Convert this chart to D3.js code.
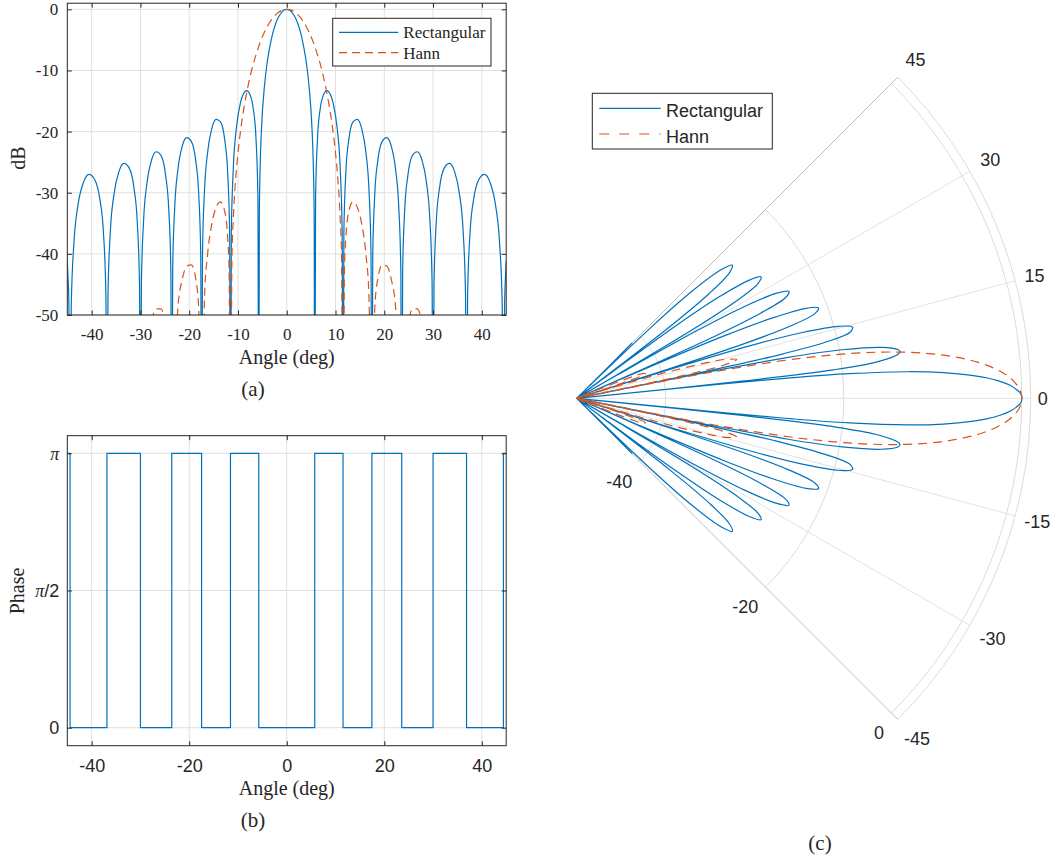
<!DOCTYPE html>
<html>
<head>
<meta charset="utf-8">
<script src="https://cdn.jsdelivr.net/npm/d3@7"></script>
<style>
  body { margin: 0; background: #fff; }
</style>
</head>
<body>
<svg id="fig" width="1056" height="861"></svg>
<script>
// ---- data ----

// rectangular window pattern, angle in degrees / level in dB (-80 = null, below the axis floor)
const rectAngle = [
  -45.000, -44.830, -44.669, -44.427,
  -44.186, -43.627, -42.844, -41.688, -40.542, -39.420, -38.317, -37.589, -37.085, -36.870,
  -36.655, -36.155, -35.450, -34.400, -33.367, -32.348, -31.332, -30.663, -30.199, -30.000,
  -29.802, -29.339, -28.682, -27.712, -26.744, -25.786, -24.834, -24.204, -23.766, -23.578,
  -23.390, -22.954, -22.332, -21.407, -20.487, -19.572, -18.662, -18.059, -17.638, -17.458,
  -17.278, -16.858, -16.260, -15.368, -14.478, -13.591, -12.710, -12.122, -11.713, -11.537,
  -11.361, -10.953, -10.371, -9.497, -8.627, -8.220, -7.758, -6.893, -6.315, -5.912, -5.739,
  -5.624, -5.451, -5.164, -4.589, -4.014, -3.440, -2.866, -2.292, -1.719, -1.146, -0.573,
  0,
  0.573, 1.146, 1.719, 2.292, 2.866, 3.440, 4.014, 4.589, 5.164, 5.451, 5.624,
  5.739, 5.912, 6.315, 6.893, 7.758, 8.220, 8.627, 9.497, 10.371, 10.953, 11.361,
  11.537, 11.713, 12.122, 12.710, 13.591, 14.478, 15.368, 16.260, 16.858, 17.278,
  17.458, 17.638, 18.059, 18.662, 19.572, 20.487, 21.407, 22.332, 22.954, 23.390,
  23.578, 23.766, 24.204, 24.834, 25.786, 26.744, 27.712, 28.682, 29.339, 29.802,
  30.000, 30.199, 30.663, 31.332, 32.348, 33.367, 34.400, 35.450, 36.155, 36.655,
  36.870, 37.085, 37.589, 38.317, 39.420, 40.542, 41.688, 42.844, 43.627, 44.186,
  44.427, 44.669, 44.830, 45.000
];
const rectDb = [
  -41.2, -44.2, -48.5, -80,
  -48.4, -38.0, -32.2, -28.3, -27.0, -27.8, -31.1, -36.5, -46.7, -80,
  -46.6, -36.1, -30.4, -26.5, -25.2, -25.9, -29.2, -34.7, -44.8, -80,
  -44.7, -34.3, -28.5, -24.6, -23.3, -23.9, -27.2, -32.6, -42.7, -80,
  -42.6, -32.1, -26.3, -22.3, -21.0, -21.6, -24.8, -30.1, -40.2, -80,
  -40.0, -29.5, -23.6, -19.5, -18.0, -18.4, -21.4, -26.6, -36.6, -80,
  -36.4, -25.8, -19.7, -15.3, -13.5, -13.3, -13.6, -16.1, -21.0, -30.8, -80,
  -33.8, -25.6, -19.3, -12.7, -8.7, -6.0, -3.9, -2.4, -1.3, -0.6, -0.1,
  0,
  -0.1, -0.6, -1.3, -2.4, -3.9, -6.0, -8.7, -12.7, -19.3, -25.6, -33.8,
  -80, -30.8, -21.0, -16.1, -13.6, -13.3, -13.5, -15.3, -19.7, -25.8, -36.4,
  -80, -36.6, -26.6, -21.4, -18.4, -18.0, -19.5, -23.6, -29.5, -40.0,
  -80, -40.2, -30.1, -24.8, -21.6, -21.0, -22.3, -26.3, -32.1, -42.6,
  -80, -42.7, -32.6, -27.2, -23.9, -23.3, -24.6, -28.5, -34.3, -44.7,
  -80, -44.8, -34.7, -29.2, -25.9, -25.2, -26.5, -30.4, -36.1, -46.6,
  -80, -46.7, -36.5, -31.1, -27.8, -27.0, -28.3, -32.2, -38.0, -48.4,
  -80, -48.5, -44.2, -41.2
];

// Hann window pattern
const hannAngle = [
  -45.000, -44.427, -40.542, -36.870, -33.367, -30.000,
  -28.682, -27.712, -26.744, -25.786, -25.150, -24.204, -23.578,
  -22.332, -21.407, -20.487, -19.572, -18.662, -18.059, -17.458,
  -16.858, -16.260, -15.368, -14.478, -13.591, -12.710, -12.122, -11.830, -11.537,
  -11.245, -10.953, -10.370, -9.788, -9.207, -8.627, -8.048, -7.470, -6.893, -6.315, -5.739,
  -5.164, -4.589, -4.014, -3.440, -2.866, -2.292, -1.719, -1.146, -0.573,
  0,
  0.573, 1.146, 1.719, 2.292, 2.866, 3.440, 4.014, 4.589, 5.164,
  5.739, 6.315, 6.893, 7.470, 8.048, 8.627, 9.207, 9.788, 10.370, 10.953, 11.245,
  11.537, 11.830, 12.122, 12.710, 13.591, 14.478, 15.368, 16.260, 16.858,
  17.458, 18.059, 18.662, 19.572, 20.487, 21.407, 22.332,
  23.578, 24.204, 25.150, 25.786, 26.744, 27.712, 28.682,
  30.000, 33.367, 36.870, 40.542, 44.427, 45.000
];
const hannDb = [
  -75, -80, -59.3, -80, -54.6, -80,
  -55.3, -50.9, -49.0, -49.0, -50.4, -56.6, -80,
  -48.9, -44.1, -42.0, -41.8, -44.1, -48.8, -80,
  -46.9, -40.3, -35.1, -32.4, -31.5, -33.1, -37.3, -42.4, -80,
  -40.85, -34.08, -26.70, -21.95, -18.34, -15.42, -12.97, -10.85, -9.02, -7.47, -6.06,
  -4.80, -3.75, -2.84, -2.07, -1.42, -0.91, -0.51, -0.22, -0.06,
  0,
  -0.06, -0.22, -0.51, -0.91, -1.42, -2.07, -2.84, -3.75, -4.80,
  -6.06, -7.47, -9.02, -10.85, -12.97, -15.42, -18.34, -21.95, -26.70, -34.08, -40.85,
  -80, -42.4, -37.3, -33.1, -31.5, -32.4, -35.1, -40.3, -46.9,
  -80, -48.8, -44.1, -41.8, -42.0, -44.1, -48.9,
  -80, -56.6, -50.4, -49.0, -49.0, -50.9, -55.3,
  -80, -54.6, -80, -59.3, -80, -75
];

// phase of the rectangular pattern (step starts)
const phaseAngle = [-45, -44.43, -36.87, -30, -23.58, -17.46, -11.54, -5.74,
                    5.74, 11.54, 17.46, 23.58, 30, 36.87, 44.43, 45];
const phaseValue = [Math.PI, 0, Math.PI, 0, Math.PI, 0, Math.PI, 0,
                    Math.PI, 0, Math.PI, 0, Math.PI, 0, Math.PI, Math.PI];

const seriesNames = ['Rectangular', 'Hann'];
const angleTicksA = [-40, -30, -20, -10, 0, 10, 20, 30, 40];
const dbTicksA = [-50, -40, -30, -20, -10, 0];
const angleTicksB = [-40, -20, 0, 20, 40];
const phaseTicks = [0, Math.PI / 2, Math.PI];
const phaseTickLabels = ['0', 'π/2', 'π'];
const thetaTicks = [-45, -30, -15, 0, 15, 30, 45];
const rTicks = [-40, -20, 0];
const captions = ['(a)', '(b)', '(c)'];

// ---- styling ----
const blue = '#0072bd';
const red = '#d95319';
const ink = '#262626';
const gridColor = '#e0e0e0';
const serif = '"Liberation Serif", "Times New Roman", serif';
const sans = '"Liberation Sans", Arial, Helvetica, sans-serif';
const tickLen = 4.5;

const svg = d3.select('#fig');
svg.append('rect').attr('width', 1056).attr('height', 861).attr('fill', '#fff');

const defs = svg.append('defs');

function drawGrid(g, x, y, xTicks, yTicks) {
  const [xl, xr] = x.range();
  const [yb, yt] = y.range();
  g.append('g').selectAll('line').data(xTicks).join('line')
    .attr('x1', d => x(d)).attr('x2', d => x(d))
    .attr('y1', yb).attr('y2', yt)
    .attr('stroke', gridColor);
  g.append('g').selectAll('line').data(yTicks).join('line')
    .attr('x1', xl).attr('x2', xr)
    .attr('y1', d => y(d)).attr('y2', d => y(d))
    .attr('stroke', gridColor);
}

function drawAxes(g, x, y, o) {
  const [xl, xr] = x.range();
  const [yb, yt] = y.range();
  const styleAxis = sel => sel
    .attr('font-family', o.font).attr('font-size', o.size)
    .attr('color', ink);

  g.append('g').attr('transform', `translate(0,${yb})`)
    .call(d3.axisBottom(x).tickValues(o.xTicks).tickFormat(d => String(d))
      .tickSize(-tickLen).tickSizeOuter(0).tickPadding(o.xPad))
    .call(styleAxis);
  g.append('g').attr('transform', `translate(0,${yt})`)
    .call(d3.axisTop(x).tickValues(o.xTicks).tickFormat('')
      .tickSize(-tickLen).tickSizeOuter(0));
  const left = g.append('g').attr('transform', `translate(${xl},0)`)
    .call(d3.axisLeft(y).tickValues(o.yTicks).tickFormat(o.yFormat)
      .tickSize(-tickLen).tickSizeOuter(0).tickPadding(o.yPad))
    .call(styleAxis);
  g.append('g').attr('transform', `translate(${xr},0)`)
    .call(d3.axisRight(y).tickValues(o.yTicks).tickFormat('')
      .tickSize(-tickLen).tickSizeOuter(0));

  g.selectAll('.domain').remove();
  g.selectAll('.tick line').attr('stroke', ink);

  g.append('rect')
    .attr('x', xl).attr('y', yt)
    .attr('width', xr - xl).attr('height', yb - yt)
    .attr('fill', 'none').attr('stroke', ink);
  return left;
}

function clipFor(id, x, y) {
  const [xl, xr] = x.range();
  const [yb, yt] = y.range();
  defs.append('clipPath').attr('id', id)
    .append('rect').attr('x', xl).attr('y', yt)
    .attr('width', xr - xl).attr('height', yb - yt);
  return `url(#${id})`;
}

// ================= (a) level vs angle =================
const xA = d3.scaleLinear().domain([-45, 45]).range([67.3, 506.2]);
const yA = d3.scaleLinear().domain([-50, 1]).range([315, 3.2]);
const gA = svg.append('g');
drawGrid(gA, xA, yA, angleTicksA, dbTicksA);

const lineA = d3.line()
  .x(d => xA(d[0])).y(d => yA(d[1]))
  .curve(d3.curveMonotoneX);
const plotA = gA.append('g').attr('clip-path', clipFor('clipA', xA, yA));
plotA.append('path')
  .attr('d', lineA(d3.zip(rectAngle, rectDb)))
  .attr('fill', 'none').attr('stroke', blue).attr('stroke-width', 1.2);
plotA.append('path')
  .attr('d', lineA(d3.zip(hannAngle, hannDb)))
  .attr('fill', 'none').attr('stroke', red).attr('stroke-width', 1.2)
  .attr('stroke-dasharray', '8,5');

drawAxes(gA, xA, yA, {
  xTicks: angleTicksA, yTicks: dbTicksA, yFormat: d => String(d),
  font: serif, size: 17, xPad: 13, yPad: 9
});

gA.append('text')
  .attr('transform', 'translate(25,158) rotate(-90)')
  .attr('text-anchor', 'middle').attr('font-family', serif).attr('font-size', 20)
  .attr('fill', ink).text('dB');
gA.append('text')
  .attr('x', xA(0)).attr('y', 364)
  .attr('text-anchor', 'middle').attr('font-family', serif).attr('font-size', 20)
  .attr('fill', ink).text('Angle (deg)');

// legend (a)
const legA = gA.append('g');
legA.append('rect').attr('x', 332.7).attr('y', 18.3).attr('width', 158.3).attr('height', 47.7)
  .attr('fill', '#fff').attr('stroke', ink);
seriesNames.forEach((name, i) => {
  const ly = 32.3 + i * 20.4;
  legA.append('line').attr('x1', 339).attr('x2', 398.3).attr('y1', ly).attr('y2', ly)
    .attr('stroke', i ? red : blue).attr('stroke-width', 1.2)
    .attr('stroke-dasharray', i ? '8,5' : null);
  legA.append('text').attr('x', 403.3).attr('y', ly + 6)
    .attr('font-family', serif).attr('font-size', 17).attr('fill', ink).text(name);
});

// ================= (b) phase vs angle =================
const xB = d3.scaleLinear().domain([-45, 45]).range([67.3, 506.2]);
const yB = d3.scaleLinear().domain([-0.206, 3.343]).range([745.7, 435.7]);
const gB = svg.append('g');
drawGrid(gB, xB, yB, angleTicksB, phaseTicks);

const lineB = d3.line()
  .x(d => xB(d[0])).y(d => yB(d[1]))
  .curve(d3.curveStepAfter);
gB.append('g').attr('clip-path', clipFor('clipB', xB, yB))
  .append('path')
  .attr('d', lineB(d3.zip(phaseAngle, phaseValue)))
  .attr('fill', 'none').attr('stroke', blue).attr('stroke-width', 1.2);

const leftB = drawAxes(gB, xB, yB, {
  xTicks: angleTicksB, yTicks: phaseTicks, yFormat: (d, i) => phaseTickLabels[i],
  font: sans, size: 18, xPad: 14, yPad: 8
});
leftB.selectAll('.tick text').each(function (d, i) {
  const t = d3.select(this);
  const lab = phaseTickLabels[i];
  if (lab.startsWith('π')) {
    t.text(null);
    t.append('tspan').attr('font-family', serif).attr('font-style', 'italic').text('π');
    t.append('tspan').text(lab.slice(1));
  }
});

gB.append('text')
  .attr('transform', 'translate(24,591) rotate(-90)')
  .attr('text-anchor', 'middle').attr('font-family', serif).attr('font-size', 20)
  .attr('fill', ink).text('Phase');
gB.append('text')
  .attr('x', xB(0)).attr('y', 795)
  .attr('text-anchor', 'middle').attr('font-family', serif).attr('font-size', 20)
  .attr('fill', ink).text('Angle (deg)');

// ================= (c) polar pattern =================
const cx = 576.7, cy = 398.3, R = 454;
const rP = d3.scaleLinear().domain([-50, 1]).range([0, R]).clamp(true);
const rad = deg => deg * Math.PI / 180;
const toXY = (deg, r) => [cx + r * Math.cos(rad(deg)), cy - r * Math.sin(rad(deg))];

const gC = svg.append('g');

// radial grid arcs (plus the outer rim)
[...rTicks, 1].forEach(v => {
  const r = rP(v);
  const p = d3.path();
  const [sx, sy] = toXY(45, r);
  p.moveTo(sx, sy);
  p.arc(cx, cy, r, -Math.PI / 4, Math.PI / 4);
  gC.append('path').attr('d', p.toString())
    .attr('fill', 'none').attr('stroke', '#dcdcdc');
});
// angular spokes
thetaTicks.forEach(t => {
  const [ex, ey] = toXY(t, R);
  const edge = Math.abs(t) === 45;
  gC.append('line').attr('x1', cx).attr('y1', cy).attr('x2', ex).attr('y2', ey)
    .attr('stroke', edge ? '#bdbdbd' : '#e2e2e2');
});

const lineC = d3.lineRadial()
  .angle(d => rad(90 - d[0]))
  .radius(d => rP(d[1]))
  .curve(d3.curveCatmullRom.alpha(0.5));
const plotC = gC.append('g').attr('transform', `translate(${cx},${cy})`);
plotC.append('path')
  .attr('d', lineC(d3.zip(rectAngle, rectDb)))
  .attr('fill', 'none').attr('stroke', blue).attr('stroke-width', 1.2);
plotC.append('path')
  .attr('d', lineC(d3.zip(hannAngle, hannDb)))
  .attr('fill', 'none').attr('stroke', red).attr('stroke-width', 1.2)
  .attr('stroke-dasharray', '9,6');

// theta labels
thetaTicks.forEach(t => {
  const txt = gC.append('text')
    .attr('text-anchor', 'middle').attr('dy', '0.35em')
    .attr('font-family', sans).attr('font-size', 18).attr('fill', ink)
    .text(String(t));
  const bb = txt.node().getBBox();
  const a = rad(t);
  const ext = Math.abs(Math.cos(a)) * bb.width / 2 + Math.abs(Math.sin(a)) * 7;
  const r = R + 7 + ext + 6 * Math.pow(Math.sin(2 * a), 2);
  const [lx, ly] = toXY(t, r);
  txt.attr('x', lx).attr('y', ly);
});
// radial labels along the -45 edge
rTicks.forEach(v => {
  const [gx, gy] = toXY(-45, rP(v));
  gC.append('text')
    .attr('x', gx - 7.3).attr('y', gy + 20).attr('dy', '0.35em')
    .attr('text-anchor', 'end')
    .attr('font-family', sans).attr('font-size', 18).attr('fill', ink)
    .text(String(v));
});

// legend (c)
const legC = gC.append('g');
legC.append('rect').attr('x', 592.3).attr('y', 93.3).attr('width', 180).attr('height', 55.7)
  .attr('fill', '#fff').attr('stroke', ink);
seriesNames.forEach((name, i) => {
  const ly = 108.3 + i * 25.7;
  legC.append('line').attr('x1', 599.3).attr('x2', 660.7).attr('y1', ly).attr('y2', ly)
    .attr('stroke', i ? red : blue).attr('stroke-width', 1.2)
    .attr('stroke-dasharray', i ? '10,10' : null);
  legC.append('text').attr('x', 666).attr('y', ly + 8.5)
    .attr('font-family', sans).attr('font-size', 18).attr('fill', ink).text(name);
});

// ---- captions ----
const capPos = [[253, 396], [253, 827], [820, 850]];
captions.forEach((c, i) => {
  svg.append('text')
    .attr('x', capPos[i][0]).attr('y', capPos[i][1])
    .attr('text-anchor', 'middle')
    .attr('font-family', serif).attr('font-size', 21).attr('fill', ink)
    .text(c);
});
</script>
</body>
</html>
